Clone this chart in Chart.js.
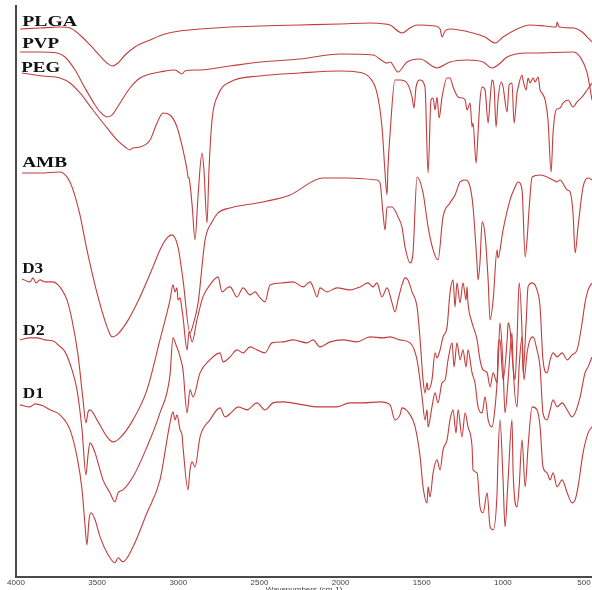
<!DOCTYPE html>
<html>
<head>
<meta charset="utf-8">
<script src="https://cdn.jsdelivr.net/npm/chart.js@4.4.1/dist/chart.umd.min.js"></script>
<style>
  html, body { margin: 0; padding: 0; background: #fff; overflow: hidden; }
  #wrap { width: 592px; height: 595px; position: relative; }
</style>
</head>
<body>
<div id="wrap"><canvas id="ftirChart"></canvas></div>
<script>
// FTIR spectra, [wavenumber cm-1, transmittance (offset, a.u.)]
const PLGA = [[3975,548],[3852,549],[3729,550],[3667,549],[3606,542],[3544,532],[3482,521],[3439,514],[3408,511],[3371,514],[3328,522],[3267,530],[3174,537],[3082,543],[2989,546],[2866,548],[2681,550],[2496,551],[2250,552],[2003,553],[1819,554],[1726,553],[1695,552],[1622,544],[1572,549],[1529,552],[1418,551],[1387,548],[1375,540],[1356,546],[1326,548],[1184,544],[1110,540],[1048,534],[999,540],[925,547],[833,552],[740,551],[672,550],[666,555],[654,550],[568,549],[512,545],[463,537],[451,535]];

const PVP = [[3975,525],[3852,525],[3747,524],[3698,520],[3636,507],[3575,489],[3513,472],[3482,465],[3439,460],[3408,462],[3359,474],[3298,489],[3236,499],[3174,503],[3113,505],[3020,507],[2977,503],[2959,506],[2866,507],[2681,511],[2496,515],[2250,518],[2003,523],[1800,522],[1714,514],[1695,515],[1646,505],[1591,515],[1510,518],[1406,509],[1326,515],[1221,517],[1122,515],[1067,509],[1030,512],[974,520],[851,524],[814,524],[568,525],[524,520],[481,504],[451,477]];

const PEG = [[3963,504],[3834,501],[3729,499],[3667,494],[3606,484],[3526,467],[3439,449],[3378,437],[3328,430],[3298,427],[3279,429],[3236,430],[3174,437],[3131,454],[3094,464],[3051,462],[3008,450],[2971,427],[2946,407],[2940,400],[2934,399],[2915,372],[2897,337],[2878,382],[2854,424],[2842,407],[2823,354],[2811,407],[2792,457],[2755,482],[2681,495],[2496,501],[2250,504],[2003,506],[1899,505],[1819,499],[1776,484],[1745,450],[1726,404],[1714,382],[1708,410],[1695,444],[1665,497],[1634,497],[1591,494],[1560,480],[1548,469],[1535,490],[1510,497],[1480,490],[1461,404],[1443,477],[1430,479],[1418,467],[1406,480],[1393,459],[1375,480],[1344,499],[1326,499],[1307,490],[1276,480],[1252,479],[1233,477],[1221,467],[1202,474],[1190,450],[1184,454],[1165,414],[1153,444],[1141,477],[1128,490],[1110,487],[1091,454],[1079,477],[1067,497],[1054,489],[1042,450],[1030,477],[1011,495],[999,490],[974,465],[962,492],[944,494],[931,454],[913,484],[907,489],[882,502],[876,497],[857,487],[845,499],[833,494],[814,499],[802,495],[783,500],[771,487],[759,484],[740,477],[722,457],[703,405],[691,444],[672,467],[648,469],[629,474],[598,477],[568,470],[543,475],[512,480],[481,487],[451,494]];

const AMB = [[3963,404],[3852,404],[3729,405],[3686,400],[3655,390],[3606,362],[3563,327],[3501,284],[3439,250],[3408,240],[3378,242],[3316,255],[3236,280],[3156,310],[3113,327],[3069,339],[3039,342],[3002,330],[2971,297],[2928,244],[2909,252],[2878,274],[2835,337],[2792,355],[2755,364],[2681,369],[2478,375],[2312,382],[2108,399],[1960,399],[1776,397],[1757,394],[1739,364],[1726,347],[1714,370],[1683,370],[1646,360],[1622,350],[1603,330],[1572,314],[1554,324],[1529,400],[1492,384],[1461,350],[1430,327],[1400,317],[1369,360],[1326,374],[1295,382],[1264,395],[1233,397],[1202,390],[1184,370],[1159,312],[1153,297],[1141,315],[1128,355],[1110,342],[1091,297],[1079,257],[1060,277],[1036,327],[1030,319],[999,347],[956,377],[925,390],[907,395],[882,387],[863,320],[851,337],[839,367],[820,400],[771,402],[691,397],[666,395],[648,397],[604,387],[586,385],[568,364],[555,324],[537,350],[506,390],[475,399],[451,397]];

const D3 = [[3963,298],[3914,295],[3895,299],[3877,294],[3852,297],[3821,295],[3772,295],[3741,292],[3717,287],[3686,277],[3655,257],[3618,222],[3587,177],[3569,154],[3556,165],[3544,167],[3501,157],[3439,140],[3402,135],[3359,139],[3279,157],[3193,187],[3113,237],[3051,277],[3033,292],[3020,285],[3008,289],[3002,277],[2989,279],[2977,267],[2971,260],[2946,227],[2934,245],[2915,235],[2885,257],[2848,280],[2805,292],[2755,300],[2731,285],[2700,289],[2681,290],[2638,280],[2601,289],[2558,282],[2527,285],[2496,279],[2466,275],[2435,292],[2355,294],[2293,295],[2231,290],[2188,295],[2170,290],[2145,280],[2127,289],[2084,285],[2022,289],[1942,287],[1880,290],[1831,294],[1800,290],[1776,294],[1745,280],[1714,289],[1683,274],[1665,265],[1646,277],[1622,292],[1603,299],[1585,297],[1560,285],[1529,270],[1510,237],[1492,197],[1480,184],[1467,194],[1461,187],[1437,197],[1418,224],[1406,219],[1387,227],[1369,240],[1344,250],[1326,284],[1307,297],[1295,270],[1283,294],[1264,274],[1246,294],[1227,277],[1221,290],[1215,274],[1190,254],[1159,237],[1141,217],[1122,207],[1097,204],[1079,190],[1060,204],[1036,194],[1030,227],[1018,237],[999,197],[974,237],[968,254],[956,247],[937,210],[925,197],[913,237],[900,294],[882,244],[876,204],[857,254],[845,290],[820,294],[790,287],[771,270],[753,217],[728,204],[709,217],[691,224],[666,220],[635,224],[604,217],[574,222],[543,227],[512,254],[494,274],[475,287],[451,294]];

const D2 = [[3975,237],[3914,239],[3871,239],[3821,237],[3760,235],[3741,232],[3698,225],[3655,207],[3624,187],[3593,147],[3569,102],[3556,122],[3544,134],[3513,124],[3464,97],[3421,84],[3390,75],[3371,84],[3341,87],[3279,100],[3193,130],[3113,164],[3051,202],[3033,239],[3014,232],[3002,227],[2989,220],[2971,207],[2946,164],[2928,187],[2909,180],[2866,204],[2805,217],[2743,224],[2724,215],[2681,220],[2638,227],[2601,224],[2558,230],[2515,227],[2466,224],[2423,234],[2355,235],[2293,237],[2207,234],[2170,237],[2127,230],[2065,235],[1985,237],[1899,235],[1819,240],[1739,239],[1695,240],[1634,237],[1572,234],[1529,217],[1498,180],[1480,157],[1467,167],[1461,150],[1437,170],[1418,184],[1400,174],[1375,194],[1356,197],[1338,217],[1313,234],[1301,210],[1283,234],[1264,217],[1246,227],[1227,210],[1215,227],[1190,204],[1172,194],[1153,170],[1128,164],[1110,180],[1091,157],[1067,150],[1048,170],[1030,210],[1018,254],[999,210],[987,164],[968,197],[944,244],[937,210],[913,170],[900,210],[882,240],[870,197],[851,224],[833,237],[814,240],[790,227],[771,210],[753,164],[728,157],[709,167],[691,177],[666,170],[635,174],[604,167],[574,160],[555,164],[524,180],[494,204],[475,210],[451,220]];

const D1 = [[3975,172],[3914,170],[3883,173],[3834,171],[3790,167],[3729,162],[3667,147],[3624,120],[3593,87],[3575,52],[3563,32],[3550,57],[3538,64],[3513,57],[3482,40],[3439,24],[3390,14],[3371,19],[3341,15],[3279,30],[3193,64],[3113,97],[3051,154],[3033,165],[3020,157],[3008,162],[2989,147],[2977,142],[2971,130],[2940,87],[2928,107],[2915,115],[2897,110],[2866,140],[2805,157],[2743,169],[2712,160],[2669,165],[2632,170],[2577,167],[2515,174],[2466,167],[2416,174],[2355,175],[2231,172],[2145,170],[2022,170],[1942,174],[1862,174],[1757,175],[1695,172],[1665,157],[1634,162],[1622,169],[1585,165],[1541,150],[1510,120],[1492,90],[1467,74],[1461,90],[1449,80],[1430,104],[1406,117],[1387,107],[1369,127],[1344,137],[1326,157],[1307,167],[1289,144],[1276,167],[1252,140],[1233,164],[1215,150],[1190,130],[1184,107],[1159,104],[1141,70],[1122,64],[1097,84],[1079,50],[1060,47],[1036,84],[1030,120],[1018,157],[999,97],[987,50],[968,97],[944,157],[937,104],[913,70],[900,90],[882,137],[863,90],[845,130],[820,170],[790,167],[771,150],[753,110],[728,104],[709,97],[691,104],[666,90],[635,97],[604,84],[574,74],[555,77],[537,90],[506,124],[475,144],[451,150]];

const seriesNames = ['PLGA', 'PVP', 'PEG', 'AMB', 'D3', 'D2', 'D1'];
const seriesData = [PLGA, PVP, PEG, AMB, D3, D2, D1];
// label anchor: [wavenumber, baseline value, target width px]
const labelPos = [[3962,551,55],[3962,529,37],[3968,505,39],[3962,410,45],[3962,304,21],[3958,242,22],[3958,179,21]];
const xTicks = [4000, 3500, 3000, 2500, 2000, 1500, 1000, 500];

const lineColor = '#c43c3c';

const leftAxis = {
  id: 'leftAxis',
  afterDraw(chart) {
    const { ctx, chartArea } = chart;
    ctx.save();
    ctx.strokeStyle = '#4a4a4a';
    ctx.lineWidth = 2;
    ctx.beginPath();
    ctx.moveTo(chartArea.left, chartArea.top);
    ctx.lineTo(chartArea.left, chartArea.bottom);
    ctx.stroke();
    ctx.restore();
  }
};

const traceLabels = {
  id: 'traceLabels',
  afterDatasetsDraw(chart) {
    const { ctx, scales } = chart;
    ctx.save();
    ctx.fillStyle = '#111';
    ctx.font = 'bold 14px "Liberation Serif", "Times New Roman", serif';
    ctx.textBaseline = 'alphabetic';
    seriesNames.forEach((name, i) => {
      const p = labelPos[i];
      const x = scales.x.getPixelForValue(p[0]);
      const y = scales.y.getPixelForValue(p[1]);
      const w = ctx.measureText(name).width;
      ctx.save();
      ctx.translate(x, y);
      ctx.scale(p[2] / w, 1);
      ctx.fillText(name, 0, 0);
      ctx.restore();
    });
    ctx.restore();
  }
};

new Chart(document.getElementById('ftirChart'), {
  type: 'line',
  data: {
    datasets: seriesData.map((d, i) => ({
      label: seriesNames[i],
      data: d.map(p => ({ x: p[0], y: p[1] })),
      borderColor: lineColor,
      borderWidth: 1.1,
      pointRadius: 0,
      cubicInterpolationMode: 'monotone',
      fill: false
    }))
  },
  options: {
    responsive: true,
    maintainAspectRatio: false,
    animation: false,
    layout: { padding: { left: 16, right: 0, top: 5, bottom: 0 } },
    plugins: { legend: { display: false }, tooltip: { enabled: false } },
    scales: {
      x: {
        type: 'linear',
        reverse: true,
        min: 451,
        max: 4000,
        afterBuildTicks: (scale) => {
          const t = [];
          for (let v = 4000; v >= 500; v -= 100) t.push({ value: v });
          scale.ticks = t;
        },
        ticks: {
          autoSkip: false,
          maxRotation: 0,
          padding: 0,
          color: '#444',
          font: { family: 'Arial, "Liberation Sans", sans-serif', size: 8 },
          callback: (v) => (xTicks.includes(v) ? String(v) : '')
        },
        grid: { display: true, drawOnChartArea: false, drawTicks: true, tickLength: 1, color: '#888' },
        border: { display: true, color: '#4a4a4a', width: 2 },
        title: {
          display: true,
          text: 'Wavenumbers (cm-1)',
          color: '#444',
          padding: { top: -2, bottom: 0 },
          font: { family: 'Arial, "Liberation Sans", sans-serif', size: 8 }
        }
      },
      y: { display: false, min: 0, max: 572 }
    }
  },
  plugins: [leftAxis, traceLabels]
});
</script>
</body>
</html>
